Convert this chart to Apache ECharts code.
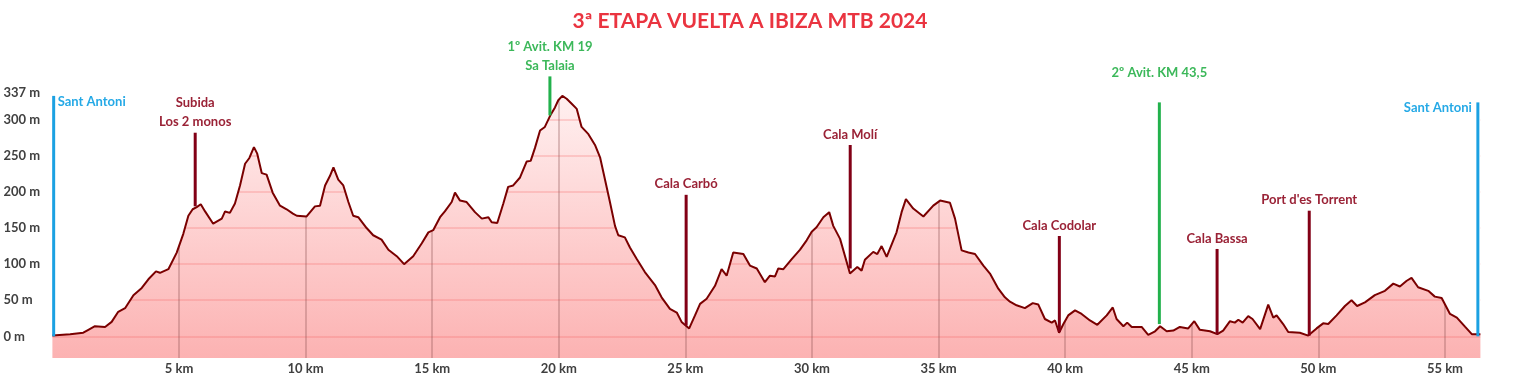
<!DOCTYPE html>
<html>
<head>
<meta charset="utf-8">
<title>3ª Etapa Vuelta a Ibiza MTB 2024</title>
<script src="https://cdn.jsdelivr.net/npm/echarts@6/dist/echarts.min.js"></script>
<style>
html,body{margin:0;padding:0;background:#fff;}
#perfil{width:1514px;height:378px;}
</style>
</head>
<body>
<div id="perfil"></div>
<script>
//perfil de la etapa: distancia (km) y altitud (m)
var distKm = [0, 0.7, 1.22, 1.42, 1.68, 2.08, 2.34, 2.6, 2.87, 3.2, 3.53, 3.79, 4.09, 4.25, 4.58, 4.91,
	5.17, 5.37, 5.54, 5.7, 5.86, 6.03, 6.35, 6.69, 6.82, 7.01, 7.21, 7.41, 7.61, 7.78, 7.96, 8.09,
	8.27, 8.46, 8.7, 8.99, 9.25, 9.5, 9.65, 10.04, 10.37, 10.57, 10.77, 10.96, 11.1, 11.29, 11.49,
	11.69, 11.88, 12.08, 12.41, 12.67, 13.0, 13.27, 13.6, 13.89, 14.25, 14.59, 14.85, 15.04, 15.31,
	15.5, 15.77, 15.9, 16.1, 16.36, 16.69, 16.96, 17.22, 17.35, 17.57, 17.81, 18.0, 18.2, 18.47,
	18.73, 18.89, 19.06, 19.26, 19.45, 19.68, 19.85, 19.98, 20.14, 20.31, 20.51, 20.71, 20.9, 21.17,
	21.43, 21.63, 21.82, 22.02, 22.22, 22.35, 22.61, 22.81, 23.08, 23.4, 23.8, 24.06, 24.39, 24.66,
	24.85, 25.15, 25.38, 25.58, 25.84, 26.17, 26.43, 26.63, 26.89, 27.29, 27.55, 27.82, 28.14, 28.34,
	28.54, 28.67, 28.87, 29.2, 29.53, 29.79, 29.99, 30.18, 30.45, 30.68, 30.84, 31.11, 31.5, 31.79,
	31.96, 32.09, 32.42, 32.58, 32.75, 32.95, 33.34, 33.54, 33.71, 34.0, 34.4, 34.79, 35.06, 35.45,
	35.65, 35.91, 36.18, 36.44, 36.77, 37.03, 37.36, 37.62, 37.82, 38.08, 38.41, 38.72, 38.94, 39.2,
	39.47, 39.6, 39.76, 39.93, 40.12, 40.39, 40.65, 40.98, 41.27, 41.64, 41.88, 42.03, 42.3, 42.45,
	42.63, 43.02, 43.28, 43.55, 43.75, 44.01, 44.27, 44.53, 44.86, 45.1, 45.32, 45.72, 46.01, 46.24,
	46.51, 46.7, 46.84, 47.01, 47.23, 47.4, 47.7, 48.02, 48.22, 48.35, 48.61, 48.81, 49.27, 49.6,
	49.93, 50.19, 50.39, 50.72, 51.05, 51.31, 51.53, 51.84, 52.23, 52.63, 52.96, 53.22, 53.49, 53.68,
	53.94, 54.34, 54.6, 54.87, 55.2, 55.47, 55.8, 56.06, 56.4];
var altitud = [1, 3, 5, 9, 14, 13, 20, 34, 39, 57, 67, 79, 90, 88, 93, 116,
	142, 167, 176, 179, 183, 173, 156, 163, 173, 171, 184, 209, 239, 247, 262, 253,
	226, 224, 199, 181, 176, 170, 167, 166, 180, 181, 209, 222, 234, 217, 209,
	186, 167, 165, 150, 140, 134, 120, 111, 100, 111, 129, 144, 147, 165,
	173, 186, 199, 188, 186, 172, 163, 165, 158, 157, 184, 207, 209, 220,
	242, 243, 261, 285, 290, 307, 317, 327, 333, 329, 322, 315, 290, 280,
	265, 248, 218, 186, 153, 140, 137, 123, 107, 89, 71, 54, 38, 33,
	20, 11, 29, 45, 52, 70, 93, 84, 116, 114, 98, 94, 75, 84,
	83, 94, 93, 107, 120, 133, 145, 151, 165, 172, 153, 135, 87, 96,
	91, 106, 117, 114, 125, 110, 144, 172, 190, 177, 166, 181, 188, 185,
	163, 119, 116, 114, 98, 87, 66, 54, 48, 43, 39, 46, 44, 24,
	19, 22, 5, 17, 29, 36, 31, 22, 16, 29, 40, 24, 14, 19,
	13, 13, 2, 7, 14, 7, 8, 13, 11, 21, 9, 7, 3, 8,
	21, 19, 23, 19, 28, 24, 10, 44, 26, 29, 17, 6, 5, 1,
	11, 18, 17, 29, 42, 50, 42, 47, 57, 63, 73, 69, 77, 81,
	68, 63, 55, 53, 31, 26, 13, 3, 3];

//puntos del recorrido
var hitoKm = [0.05, 5.64, 19.65, 25.03, 31.51, 39.77, 43.72, 46.0, 49.64, 56.3];
var hitoBase = [0, 180, 306, 15, 94, 6, 17, 3, 1, 0];
var hitoTope = [333, 282, 360, 196, 265, 139, 324, 121, 174, 324];
var hitoNombre = ['Sant Antoni', 'Subida\nLos 2 monos', '1º Avit. KM 19\nSa Talaia', 'Cala Carbó', 'Cala Molí',
	'Cala Codolar', '2º Avit. KM 43,5\n ', 'Cala Bassa', "Port d'es Torrent", 'Sant Antoni'];
var hitoTipo = ['salida', 'punto', 'avit', 'punto', 'punto', 'punto', 'avit', 'punto', 'punto', 'llegada'];

var altLineas = [0, 50, 100, 150, 200, 250, 300];
var altEtiquetas = [0, 50, 100, 150, 200, 250, 300, 337];
var kmTicks = [5, 10, 15, 20, 25, 30, 35, 40, 45, 50, 55];

var fuente = 'Lato, "Noto Sans", sans-serif';
var estilosHito = {
	salida: {linea: '#1ba1e2', texto: '#25a9e6'},
	llegada: {linea: '#1ba1e2', texto: '#25a9e6'},
	punto: {linea: '#820016', texto: '#9a2236'},
	avit: {linea: '#22b14c', texto: '#3cb85a'}
};

var perfil = [];
for (var i = 0; i < distKm.length; i++) {
	perfil.push([distKm[i], altitud[i]]);
}
var hitos = [];
for (var j = 0; j < hitoKm.length; j++) {
	hitos.push([hitoKm[j], hitoBase[j], hitoTope[j], j]);
}

function dibujaHito(params, api) {
	var idx = api.value(3);
	var tipo = hitoTipo[idx];
	var est = estilosHito[tipo];
	var p0 = api.coord([api.value(0), api.value(1)]);
	var p1 = api.coord([api.value(0), api.value(2)]);
	var txt;
	if (tipo == 'salida' || tipo == 'llegada') {
		txt = {
			type: 'text',
			x: tipo == 'salida' ? p1[0] + 4 : p1[0] - 6,
			y: p1[1] - 1,
			style: {text: hitoNombre[idx], fill: est.texto, font: 'bold 13px ' + fuente,
				textAlign: tipo == 'salida' ? 'left' : 'right', textVerticalAlign: 'top'}
		};
	} else {
		txt = {
			type: 'text',
			x: p1[0],
			y: p1[1] - 1,
			style: {text: hitoNombre[idx], fill: est.texto, font: 'bold 13px ' + fuente,
				lineHeight: 19, textAlign: 'center', textVerticalAlign: 'bottom'}
		};
	}
	return {
		type: 'group',
		children: [{
			type: 'line',
			shape: {x1: p0[0], y1: p0[1], x2: p1[0], y2: p1[1]},
			style: {stroke: est.linea, lineWidth: 3}
		}, txt]
	};
}

var chart = echarts.init(document.getElementById('perfil'));
var option = {
	backgroundColor: '#ffffff',
	animation: false,
	title: {
		text: '3ª ETAPA VUELTA A IBIZA MTB 2024',
		left: 745,
		top: 6,
		textAlign: 'center',
		textStyle: {color: '#ea3440', fontSize: 21, fontWeight: 'bold', fontFamily: fuente}
	},
	grid: {left: 52.4, right: 33.6, top: 93, bottom: 20},
	xAxis: {
		type: 'value',
		min: 0,
		max: 56.4,
		interval: 5,
		z: 2,
		axisLine: {show: false},
		axisTick: {show: false, customValues: kmTicks},
		axisLabel: {
			customValues: kmTicks,
			margin: 4,
			color: '#404040',
			fontSize: 13,
			fontWeight: 'bold',
			fontFamily: fuente,
			formatter: function (v) { return v + ' km'; }
		},
		splitLine: {show: true, lineStyle: {color: 'rgba(140,80,80,0.3)', width: 2}}
	},
	yAxis: {
		type: 'value',
		min: -30,
		max: 337,
		z: 2,
		axisLine: {show: false},
		axisTick: {show: false, customValues: altLineas},
		axisLabel: {
			customValues: altEtiquetas,
			align: 'left',
			margin: 49,
			color: '#404040',
			fontSize: 13,
			fontWeight: 'bold',
			fontFamily: fuente,
			formatter: function (v) { return v + ' m'; }
		},
		splitLine: {show: true, lineStyle: {color: 'rgba(245,90,90,0.22)', width: 2}}
	},
	series: [{
		//relleno degradado bajo el perfil
		type: 'line',
		data: perfil,
		z: 1,
		symbol: 'none',
		silent: true,
		lineStyle: {width: 0},
		areaStyle: {
			origin: 'start',
			opacity: 1,
			color: new echarts.graphic.LinearGradient(0, 0, 0, 1, [
				{offset: 0, color: '#fff0f0'},
				{offset: 1, color: '#fcb2b2'}
			])
		}
	}, {
		//tapa blanca sobre el perfil y linea del perfil
		type: 'line',
		data: perfil,
		z: 3,
		symbol: 'none',
		silent: true,
		lineStyle: {color: '#7a0000', width: 2},
		areaStyle: {origin: 'end', color: '#ffffff', opacity: 1}
	}, {
		type: 'custom',
		z: 4,
		clip: false,
		silent: true,
		renderItem: dibujaHito,
		data: hitos
	}]
};
chart.setOption(option);
window.addEventListener('resize', function () {
	chart.resize();
});
</script>
</body>
</html>
